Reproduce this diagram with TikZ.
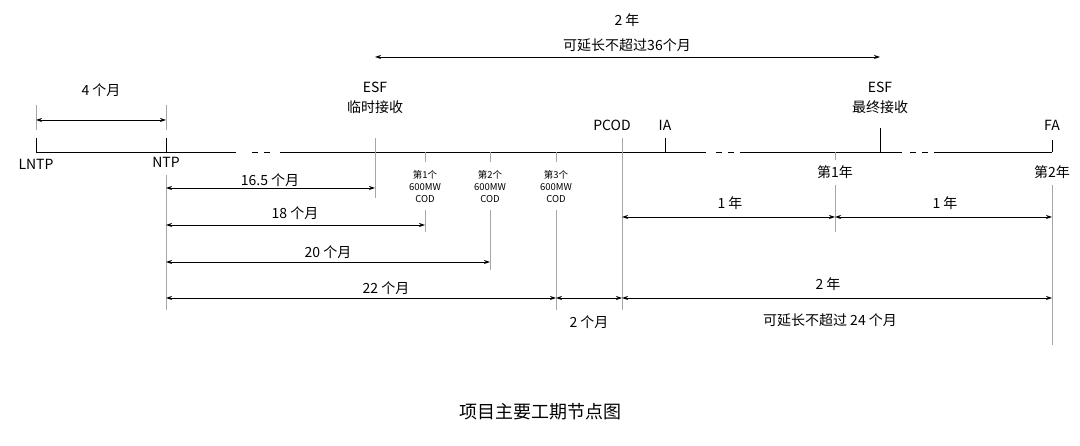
\documentclass[tikz,border=0pt]{standalone}
\usepackage{fontspec}
\setmainfont{Noto Sans CJK SC}
\usetikzlibrary{arrows.meta}
\begin{document}
\begin{tikzpicture}[x=1pt,y=-1pt,
  lbl/.style={font=\fontsize{14}{16}\selectfont,inner sep=0pt},
  sml/.style={font=\fontsize{9.5}{12}\selectfont,inner sep=0pt,align=center},
  gl/.style={draw=gray!70,line width=0.6pt},
  tk/.style={draw=black,line width=0.9pt},
  dim/.style={draw=black,line width=0.8pt,{Stealth[length=6pt,width=4pt]}-{Stealth[length=6pt,width=4pt]}}]
\useasboundingbox (0,0) rectangle (1080,446);
% main line
\draw[tk] (36,152) -- (236,152);
\draw[tk] (252,152) -- (258,152) (264,152) -- (270,152);
\draw[tk] (280,152) -- (706,152);
\draw[tk] (716,152) -- (722,152) (728,152) -- (734,152);
\draw[tk] (740,152) -- (902,152);
\draw[tk] (910,152) -- (916,152) (922,152) -- (928,152);
\draw[tk] (934,152) -- (1052,152);
% coordinates
\coordinate (lntp) at (36,120); \coordinate (ntp) at (166,120);
\coordinate (esfA) at (375,57); \coordinate (esfB) at (880,57);
% ticks
\draw[gl] (36,105) -- (36,130); \draw[tk] (36,138) -- (36,152);
\draw[gl] (166,105) -- (166,130); \draw[tk] (166,138) -- (166,152);
\draw[gl] (166,175) -- (166,310);
\draw[gl] (375,138) -- (375,198);
\draw[gl] (425,152) -- (425,162); \draw[gl] (425,210) -- (425,232);
\draw[gl] (490,152) -- (490,162); \draw[gl] (490,210) -- (490,270);
\draw[gl] (556,152) -- (556,162); \draw[gl] (556,210) -- (556,310);
\draw[gl] (622,138) -- (622,310);
\draw[tk] (665,138) -- (665,152);
\draw[tk] (880,128) -- (880,152);
\draw[gl] (835,152) -- (835,160); \draw[gl] (835,185) -- (835,232);
\draw[tk] (1052,140) -- (1052,152); \draw[gl] (1052,185) -- (1052,345);
% labels on line
\node[lbl] (tLNTP) at (36,164) {LNTP};
\node[lbl] (tNTP) at (166,162) {NTP};
\node[lbl] (tESF1) at (375,87) {ESF};
\node[lbl] (tESF1b) at (375,107) {临时接收};
\node[sml] (c1) at (425,187) {第1个\\600MW\\COD};
\node[sml] (c2) at (490,187) {第2个\\600MW\\COD};
\node[sml] (c3) at (556,187) {第3个\\600MW\\COD};
\node[lbl] (tPCOD) at (612,125) {PCOD};
\node[lbl] (tIA) at (665,125) {IA};
\node[lbl] (tESF2) at (880,87) {ESF};
\node[lbl] (tESF2b) at (880,107) {最终接收};
\node[lbl] (tFA) at (1052,125) {FA};
\node[lbl] (y1) at (835,172) {第1年};
\node[lbl] (y2) at (1052,172) {第2年};
% dimension arrows
\draw[dim] (lntp) -- (ntp); \node[lbl] at (101,90) {4 个月};
\draw[dim] (esfA) -- (esfB); \node[lbl] at (627,20) {2 年}; \node[lbl] at (627,45) {可延长不超过36个月};
\draw[dim] (166,188) -- (375,188); \node[lbl] at (270,180) {16.5 个月};
\draw[dim] (166,225) -- (425,225); \node[lbl] at (295,213) {18 个月};
\draw[dim] (166,262) -- (490,262); \node[lbl] at (328,252) {20 个月};
\draw[dim] (166,298) -- (556,298); \node[lbl] at (386,288) {22 个月};
\draw[dim] (556,298) -- (622,298); \node[lbl] at (589,322) {2 个月};
\draw[dim] (622,298) -- (1052,298); \node[lbl] at (828,284) {2 年}; \node[lbl] at (830,320) {可延长不超过 24 个月};
\draw[dim] (622,217) -- (835,217); \node[lbl] at (730,203) {1 年};
\draw[dim] (835,217) -- (1052,217); \node[lbl] at (945,203) {1 年};
\node[font=\fontsize{18}{20}\selectfont] (cap) at (540,412) {项目主要工期节点图};
\end{tikzpicture}
\end{document}
